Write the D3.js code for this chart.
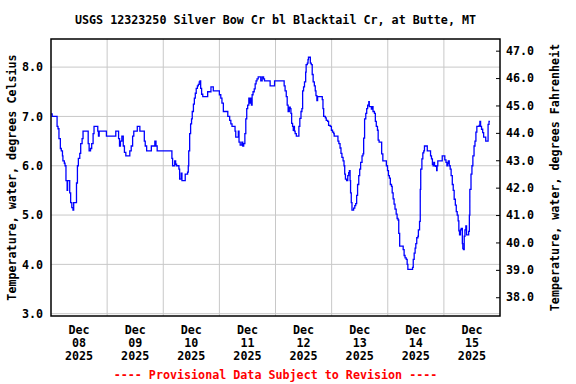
<!DOCTYPE html>
<html>
<head>
<meta charset="utf-8">
<script src="https://cdn.jsdelivr.net/npm/d3@7"></script>
<style>
  body { margin: 0; background: #fff; }
  text { font-family: "DejaVu Sans Mono", monospace; font-weight: bold; font-size: 11.7px; }
</style>
</head>
<body>
<svg id="chart" width="576" height="384"></svg>
<script>
// hours after 2025-12-08 00:00 and water temperature (deg C)
let hours = [
  0, 0.5, 2.6, 3.0, 3.4, 4.0, 4.4, 4.9, 5.1, 5.7, 6.0, 6.4, 6.9, 7.1, 8.0, 8.4, 8.9, 9.4, 9.7, 10.9,
  11.3, 11.7, 12.3, 12.7, 13.3, 13.7, 15.9, 16.3, 16.9, 17.4, 18.0, 18.4, 20.0, 20.3, 20.6, 23.7,
  27.7, 28.9, 29.3, 29.7, 30.3, 30.9, 31.4, 32.0, 33.7, 34.3, 34.9, 35.4, 36.9, 38.0, 39.9, 40.3,
  40.9, 42.9, 44.4, 44.9, 45.4,
  51.7, 52.0, 52.9, 53.3, 53.7, 54.7, 55.0, 55.7, 56.0, 57.4, 58.4, 58.7, 58.9, 59.3, 59.7, 60.1,
  60.4, 60.9, 61.3, 61.7, 62.1, 62.6, 63.0, 63.4, 63.7, 64.0, 64.4, 64.9, 67.0, 68.4, 69.4,
  72.0, 72.6, 73.1, 73.7, 75.6, 76.4, 76.9, 77.4, 78.7, 79.0, 80.1, 80.4, 80.9, 81.6, 82.0, 82.4,
  82.9, 83.3, 83.7, 84.1, 84.6, 84.9, 85.3, 85.7, 86.0, 86.4, 86.9, 87.3, 87.7, 88.1, 88.6, 89.7,
  90.3, 90.9, 91.3, 93.7, 95.6,
  99.7, 100.1, 100.6, 101.0, 101.4, 101.9, 102.3, 102.6, 102.9, 103.3, 103.6, 103.9, 104.1, 104.4,
  104.9, 106.0, 106.4, 106.9, 107.3, 107.6, 108.0, 108.4, 108.9, 109.1, 109.6, 109.9, 110.1, 110.9,
  111.3, 111.7, 112.1, 112.6, 113.0, 113.3, 113.7, 114.0, 116.0, 116.3, 116.6, 117.3, 117.7, 118.3,
  118.7, 119.4, 119.9,
  120.4, 120.9, 121.1, 122.7, 123.1, 123.6, 124.0, 124.4, 124.9, 125.3, 125.6, 125.9, 126.4, 126.9,
  127.3, 127.6, 127.9, 128.1, 128.4, 128.7, 129.4, 129.9, 130.3, 130.7, 131.1, 131.6, 132.0, 132.4,
  133.0, 133.4, 133.7, 134.1, 134.6, 135.0, 135.4, 135.9, 136.1, 137.0, 137.3, 137.7, 138.3, 138.7,
  139.1, 139.6, 139.9, 140.3, 141.4, 141.9, 143.4, 143.9,
  144.3, 144.7, 145.1, 145.6, 145.9, 146.3, 146.7, 147.1, 147.6, 148.0, 148.4, 148.7, 149.1, 150.6,
  151.0, 151.4, 151.9, 152.3, 152.6, 154.6, 154.9, 155.3, 155.7, 156.0, 156.4, 156.9, 157.1, 157.6,
  157.9, 158.1, 158.6, 159.0, 159.4, 159.7, 160.9, 162.3, 162.7, 163.1, 163.4, 163.7, 164.0, 164.4,
  164.9, 165.1, 165.4, 167.3,
  168.4, 168.9, 169.3, 169.6, 169.9, 170.3, 170.7, 171.1, 171.6, 172.0, 172.4, 172.9, 173.3, 173.7,
  174.1, 174.4, 174.7, 175.1, 175.4, 175.9, 176.1, 176.4, 176.7, 177.0, 177.4, 177.7, 178.6, 178.9,
  179.1, 179.6, 180.0, 180.4, 180.9, 181.3, 181.7, 182.1, 183.1, 183.4, 183.7, 184.1, 184.6, 185.0,
  185.9, 186.9, 187.3, 187.7
];
let tempC = [
  7.05, 7.0, 6.8, 6.75, 6.55, 6.35, 6.3, 6.2, 6.1, 6.05, 6.0, 5.7, 5.5, 5.7, 5.45, 5.25, 5.15, 5.1, 5.25, 5.65,
  6.0, 6.15, 6.25, 6.45, 6.55, 6.7, 6.45, 6.3, 6.35, 6.45, 6.65, 6.8, 6.7, 6.6, 6.7, 6.6,
  6.7, 6.55, 6.4, 6.5, 6.6, 6.4, 6.27, 6.2, 6.3, 6.4, 6.6, 6.7, 6.8, 6.7, 6.5, 6.4,
  6.3, 6.4, 6.5, 6.4, 6.3,
  6.15, 6.0, 6.1, 6.03, 6.0, 5.93, 5.73, 5.85, 5.7, 5.83, 5.87, 6.0, 6.3, 6.65, 6.85, 6.95,
  7.1, 7.25, 7.37, 7.47, 7.57, 7.62, 7.65, 7.7, 7.72, 7.57, 7.45, 7.4, 7.5, 7.6, 7.52,
  7.44, 7.37, 7.27, 7.1, 7.0, 6.92, 6.85, 6.8, 6.7, 6.58, 6.7, 6.48, 6.42, 6.48, 6.4, 6.45,
  6.65, 6.95, 7.16, 7.23, 7.37, 7.27, 7.37, 7.23, 7.44, 7.5, 7.56, 7.66, 7.72, 7.76, 7.8, 7.72,
  7.8, 7.76, 7.72, 7.62, 7.72,
  7.62, 7.52, 7.4, 7.23, 7.1, 7.19, 7.16, 7.06, 6.86, 6.8, 6.72, 6.8, 6.7, 6.65,
  6.6, 6.8, 6.96, 7.1, 7.16, 7.52, 7.6, 7.7, 7.9, 8.05, 8.08, 8.15, 8.2, 8.08,
  8.05, 7.85, 7.7, 7.62, 7.52, 7.42, 7.32, 7.4, 7.34, 7.16, 7.0, 6.97, 6.92, 6.9,
  6.82, 6.8, 6.72,
  6.68, 6.65, 6.6, 6.5, 6.45, 6.36, 6.25, 6.17, 6.1, 6.0, 5.83, 5.73, 5.7, 5.8,
  5.86, 5.9, 5.7, 5.45, 5.25, 5.1, 5.14, 5.19, 5.23, 5.4, 5.62, 5.8, 5.93, 6.07,
  6.2, 6.24, 6.56, 6.95, 7.06, 7.16, 7.23, 7.3, 7.2, 7.15, 7.2, 7.1, 7.06, 6.9,
  6.8, 6.72, 6.52, 6.48, 6.24, 6.1, 6.0, 5.9,
  5.8, 5.75, 5.62, 5.58, 5.45, 5.33, 5.22, 5.12, 5.02, 4.93, 4.9, 4.63, 4.37, 4.3,
  4.18, 4.13, 4.1, 4.0, 3.9, 3.94, 4.1, 4.23, 4.33, 4.42, 4.54, 4.57, 4.7, 4.87,
  5.52, 5.93, 6.14, 6.26, 6.3, 6.4, 6.3, 6.2, 6.14, 6.03, 6.0, 6.07, 6.0, 5.99,
  5.9, 6.0, 6.1, 6.2,
  6.12, 6.07, 6.0, 6.05, 6.1, 6.0, 5.93, 5.8, 5.62, 5.5, 5.32, 5.2, 5.07, 5.0,
  4.88, 4.68, 4.6, 4.7, 4.73, 4.42, 4.32, 4.3, 4.57, 4.7, 4.78, 4.6, 4.67, 5.0,
  5.52, 5.83, 6.0, 6.2, 6.4, 6.5, 6.68, 6.8, 6.82, 6.9, 6.8, 6.74, 6.67, 6.58,
  6.5, 6.84, 6.9, 6.9
];
let celsiusTicks = [3, 4, 5, 6, 7, 8];
let fahrenheitTicks = [38, 39, 40, 41, 42, 43, 44, 45, 46, 47];
let dayLabels = ["08", "09", "10", "11", "12", "13", "14", "15"];
let startDate = new Date(2025, 11, 8);
let endDate = new Date(2025, 11, 16);

let title = "USGS 12323250 Silver Bow Cr bl Blacktail Cr, at Butte, MT";
let leftTitle = "Temperature, water, degrees Celsius";
let rightTitle = "Temperature, water, degrees Fahrenheit";
let footNote = "---- Provisional Data Subject to Revision ----";

let margin = { top: 39, right: 76, bottom: 68, left: 51 },
  width = 576 - margin.left - margin.right,
  height = 384 - margin.top - margin.bottom;

let svg = d3.select("#chart");
let g = svg.append("g").attr("transform", "translate(" + margin.left + "," + margin.top + ")");

let toF = (c) => c * 1.8 + 32;
let x = d3.scaleTime().domain([startDate, endDate]).range([0, width]);
let y = d3.scaleLinear().domain([2.953, 8.57]).range([height, 0]);
let yF = d3.scaleLinear().domain([toF(2.953), toF(8.57)]).range([height, 0]);

let data = hours.map((h, i) => ({
  date: new Date(startDate.getTime() + h * 3600 * 1000),
  val: tempC[i],
}));

// grid
g.selectAll(".hgrid")
  .data(celsiusTicks)
  .enter()
  .append("line")
  .attr("x1", 0)
  .attr("x2", width)
  .attr("y1", (d) => y(d))
  .attr("y2", (d) => y(d))
  .attr("stroke", "#c8c8c8")
  .attr("stroke-width", 1);
let midnights = d3.timeDay.range(d3.timeDay.offset(startDate, 1), endDate);
g.selectAll(".vgrid")
  .data(midnights)
  .enter()
  .append("line")
  .attr("x1", (d) => x(d))
  .attr("x2", (d) => x(d))
  .attr("y1", 0)
  .attr("y2", height)
  .attr("stroke", "#c8c8c8")
  .attr("stroke-width", 1);

// the line
let valueline = d3
  .line()
  .curve(d3.curveStepAfter)
  .x((d) => x(d.date))
  .y((d) => y(d.val));
g.append("path")
  .datum(data)
  .attr("fill", "none")
  .attr("stroke", "#0000ff")
  .attr("stroke-width", 1.3)
  .attr("d", valueline);

// frame
g.append("rect")
  .attr("width", width)
  .attr("height", height)
  .attr("fill", "none")
  .attr("stroke", "#000")
  .attr("stroke-width", 1.5);

// left axis
let leftAxis = g
  .append("g")
  .call(d3.axisLeft(y).tickValues(celsiusTicks).tickFormat(d3.format(".1f")).tickSize(0).tickPadding(8));
leftAxis.select(".domain").remove();
leftAxis.selectAll("text").attr("font-size", null).attr("fill", "#000");

// right axis, ticks point inward
let rightAxis = g
  .append("g")
  .attr("transform", "translate(" + width + ",0)")
  .call(
    d3.axisRight(yF).tickValues(fahrenheitTicks).tickFormat(d3.format(".1f")).tickSizeInner(-4).tickSizeOuter(0).tickPadding(6)
  );
rightAxis.select(".domain").remove();
rightAxis.selectAll("line").attr("stroke", "#000").attr("stroke-width", 1);
rightAxis.selectAll("text").attr("font-size", null).attr("fill", "#000");

// date labels at noon of each day
let dayG = g
  .selectAll(".day")
  .data(dayLabels)
  .enter()
  .append("text")
  .attr("text-anchor", "middle")
  .attr("transform", (d, i) => "translate(" + x(d3.timeHour.offset(startDate, i * 24 + 12)) + "," + (height + 18) + ")");
dayG.append("tspan").attr("x", 0).attr("dy", 0).text("Dec");
dayG.append("tspan").attr("x", 0).attr("dy", 13).text((d) => d);
dayG.append("tspan").attr("x", 0).attr("dy", 13).text("2025");

// titles
svg.append("text")
  .attr("x", margin.left + width / 2)
  .attr("y", 24)
  .attr("text-anchor", "middle")
  .text(title);
svg.append("text")
  .attr("transform", "translate(16," + (margin.top + height / 2) + ") rotate(-90)")
  .attr("text-anchor", "middle")
  .text(leftTitle);
svg.append("text")
  .attr("transform", "translate(559," + (margin.top + height / 2) + ") rotate(-90)")
  .attr("text-anchor", "middle")
  .text(rightTitle);
svg.append("text")
  .attr("x", margin.left + width / 2)
  .attr("y", 379)
  .attr("text-anchor", "middle")
  .attr("fill", "#ff0000")
  .text(footNote);
</script>
</body>
</html>
